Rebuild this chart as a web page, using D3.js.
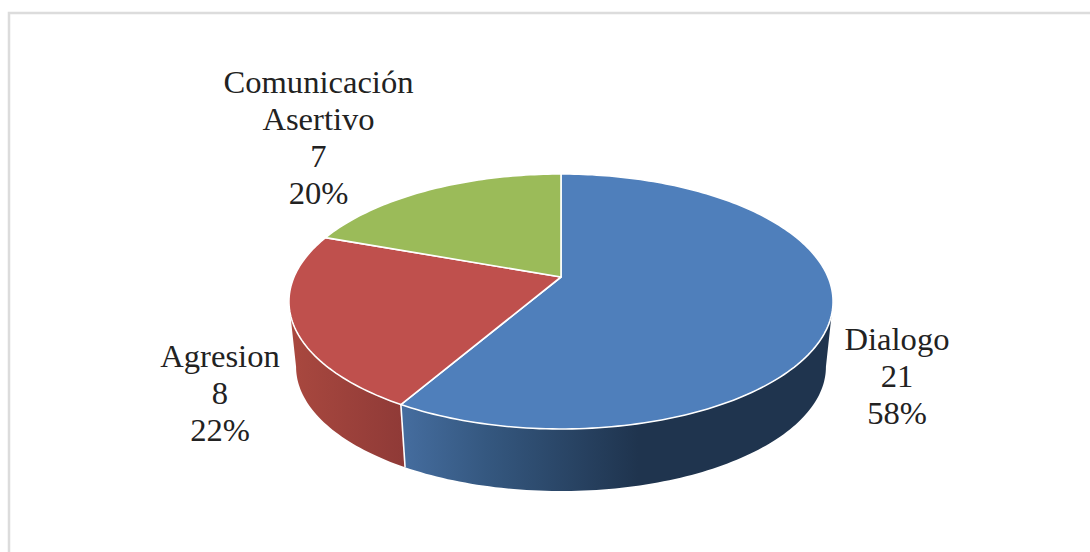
<!DOCTYPE html>
<html>
<head>
<meta charset="utf-8">
<script src="https://d3js.org/d3.v7.min.js"></script>
<style>
  html, body { margin: 0; padding: 0; background: #fff; overflow: hidden; }
  svg { display: block; }
  text { font-family: "Liberation Serif", serif; font-size: 32.6px; fill: #222; text-anchor: middle; }
</style>
</head>
<body>
<svg id="chart" width="1090" height="552"></svg>
<script>
// data
var categories = ['Dialogo', 'Agresion', 'Comunicación Asertivo'];
var values = [21, 8, 7];
var percents = ['58%', '22%', '20%'];
var topColors = ['#4f7fbb', '#bf504d', '#9bbb59'];

var svg = d3.select('#chart');

// chart frame, runs off the right and bottom of the picture
svg.append('rect')
  .attr('x', 9).attr('y', 13)
  .attr('width', 1200).attr('height', 700)
  .attr('fill', '#fff')
  .attr('stroke', '#dcdcdc')
  .attr('stroke-width', 2.5);

// tilted disc: perspective makes the near half bigger than the far half
var k = 0.192;
var topDisc = { cx: 561, cy: 277, a: 267, b: 122.8 };
var bottomDisc = { cx: 561, cy: 343, a: 260, b: 119.6 };

var project = function (disc, angle) {
  var u = Math.sin(angle), v = Math.cos(angle);
  var w = 1 + k * v;
  return [disc.cx + disc.a * u / w, disc.cy - disc.b * v / w];
};

var rimPoints = function (disc, a0, a1) {
  var n = Math.max(2, Math.ceil(Math.abs(a1 - a0) / 0.02));
  return d3.range(n + 1).map(function (i) {
    return project(disc, a0 + (a1 - a0) * i / n);
  });
};

var line = d3.line();
var arcs = d3.pie().sort(null)(values);

// wall gradients
var defs = svg.append('defs');
var addGradient = function (id, x1, x2, stops) {
  var g = defs.append('linearGradient')
    .attr('id', id)
    .attr('gradientUnits', 'userSpaceOnUse')
    .attr('x1', x1).attr('x2', x2).attr('y1', 0).attr('y2', 0);
  stops.forEach(function (s) {
    g.append('stop').attr('offset', s[0]).attr('stop-color', s[1]);
  });
};
addGradient('wall0', 402, 680, [[0, '#456d9f'], [0.3, '#355880'], [0.85, '#1f344e'], [1, '#1f344e']]);
addGradient('wall1', 290, 405, [[0, '#a9483f'], [1, '#8f3a37']]);

// visible part of the side wall, where the rim turns away from us
var wallStart = 1.763, wallEnd = 2 * Math.PI - 1.763;

arcs.forEach(function (d, i) {
  var a0 = Math.max(d.startAngle, wallStart);
  var a1 = Math.min(d.endAngle, wallEnd);
  if (a1 <= a0) return;
  var pts = rimPoints(topDisc, a0, a1).concat(rimPoints(bottomDisc, a1, a0));
  svg.append('path')
    .attr('d', line(pts) + 'Z')
    .attr('fill', 'url(#wall' + i + ')');
});

// white seam between the walls
svg.append('path')
  .attr('d', line([project(topDisc, arcs[0].endAngle), project(bottomDisc, arcs[0].endAngle)]))
  .attr('stroke', '#fff')
  .attr('stroke-width', 1.6)
  .attr('fill', 'none');

// top of the pie
arcs.forEach(function (d, i) {
  var pts = [[topDisc.cx, topDisc.cy]].concat(rimPoints(topDisc, d.startAngle, d.endAngle));
  svg.append('path')
    .attr('d', line(pts) + 'Z')
    .attr('fill', topColors[i])
    .attr('stroke', '#fff')
    .attr('stroke-width', 1.6)
    .attr('stroke-linejoin', 'round');
});

// labels
var labelSpots = [
  { x: 897, y: 350, name: ['Dialogo'] },
  { x: 220, y: 367, name: ['Agresion'] },
  { x: 318.5, y: 92.5, name: ['Comunicación', 'Asertivo'] }
];

labelSpots.forEach(function (s, i) {
  var rows = s.name.concat([String(values[i]), percents[i]]);
  svg.append('text')
    .attr('class', 'label')
    .selectAll('tspan')
    .data(rows)
    .enter()
    .append('tspan')
    .attr('x', s.x)
    .attr('y', function (d, j) { return s.y + j * 37; })
    .text(function (d) { return d; });
});
</script>
</body>
</html>
